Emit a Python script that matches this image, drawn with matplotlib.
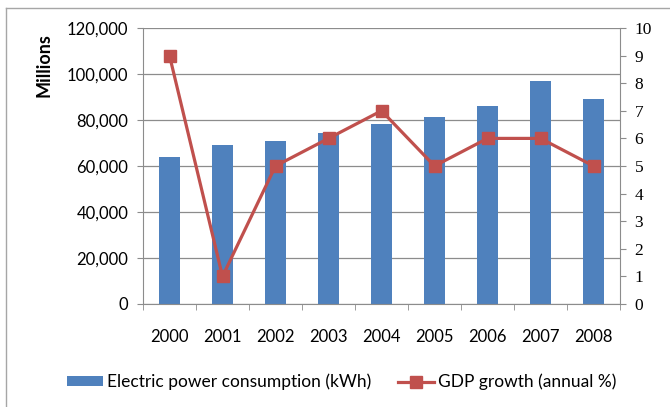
import numpy as np
import matplotlib.pyplot as plt
from matplotlib.lines import Line2D
from matplotlib.ticker import FuncFormatter, FixedLocator

years = ['2000', '2001', '2002', '2003', '2004', '2005', '2006', '2007', '2008']
power = [63900, 69100, 71000, 74300, 78300, 81300, 86100, 97000, 89100]  # millions kWh
gdp = [9, 1, 5, 6, 7, 5, 6, 6, 5]  # annual %

blue = '#4F81BD'
red = '#C0504D'
grid_col = '#8C8C8C'
sans = ['Lato', 'DejaVu Sans']
serif = ['Liberation Serif', 'DejaVu Serif']

plt.rcParams['font.family'] = sans

fig = plt.figure(figsize=(6.7, 4.07), dpi=100)
ax = fig.add_axes([143 / 670, 1 - 304 / 407, (620 - 143) / 670, (304 - 28) / 407])
x = np.arange(len(years))

ax.set_axisbelow(True)
ax.yaxis.grid(True, color=grid_col, linewidth=0.9)
ax.bar(x, power, width=0.4, color=blue, zorder=2, label='Electric power consumption (kWh)')
ax.set_ylim(0, 120000)
ax.set_yticks(np.arange(0, 120001, 20000))
ax.yaxis.set_major_formatter(FuncFormatter(lambda v, p: f'{int(v):,}'))
ax.set_xlim(-0.5, len(years) - 0.5)
ax.set_xticks(x)
ax.set_xticklabels(years)
ax.xaxis.set_minor_locator(FixedLocator(np.arange(-0.5, len(years), 1.0)))
ax.tick_params(axis='x', which='major', length=0, pad=18, labelsize=12)
ax.tick_params(axis='x', which='minor', length=4.5, color=grid_col, direction='out')
ax.tick_params(axis='y', length=4.5, color=grid_col, pad=6, labelsize=12)
ax.set_ylabel('Millions', fontsize=13, fontweight='bold')
ax.yaxis.set_label_coords(-0.19, 0.866)

for s in ['top', 'right']:
    ax.spines[s].set_visible(False)
for s in ['left', 'bottom']:
    ax.spines[s].set_color(grid_col)

ax2 = ax.twinx()
ax2.plot(x, gdp, color=red, linewidth=2.3, marker='s', markersize=9,
         zorder=3, label='GDP growth (annual %)')
ax2.set_ylim(0, 10)
ax2.set_yticks(range(0, 11))
ax2.tick_params(axis='y', length=4, color=grid_col, pad=6.5, labelsize=12.5)
for lab in ax2.get_yticklabels():
    lab.set_family(serif)
for s in ['top', 'left', 'bottom']:
    ax2.spines[s].set_visible(False)
ax2.spines['right'].set_color(grid_col)

h1, l1 = ax.get_legend_handles_labels()
h2, l2 = ax2.get_legend_handles_labels()
fig.legend(h1 + h2, l1 + l2, loc='center', bbox_to_anchor=(0.51, 1 - 382 / 407),
           ncol=2, frameon=False, fontsize=12.5, handlelength=2.1,
           handleheight=0.5, columnspacing=1.5, handletextpad=0.25)

# outer chart frame
fig.add_artist(Line2D([6 / 670, 6 / 670], [0, 1 - 8 / 407], transform=fig.transFigure,
                      color='#A6A6A6', linewidth=1))
fig.add_artist(Line2D([6 / 670, 1], [1 - 8 / 407, 1 - 8 / 407], transform=fig.transFigure,
                      color='#A6A6A6', linewidth=1))

fig.savefig('out.png', dpi=100)
